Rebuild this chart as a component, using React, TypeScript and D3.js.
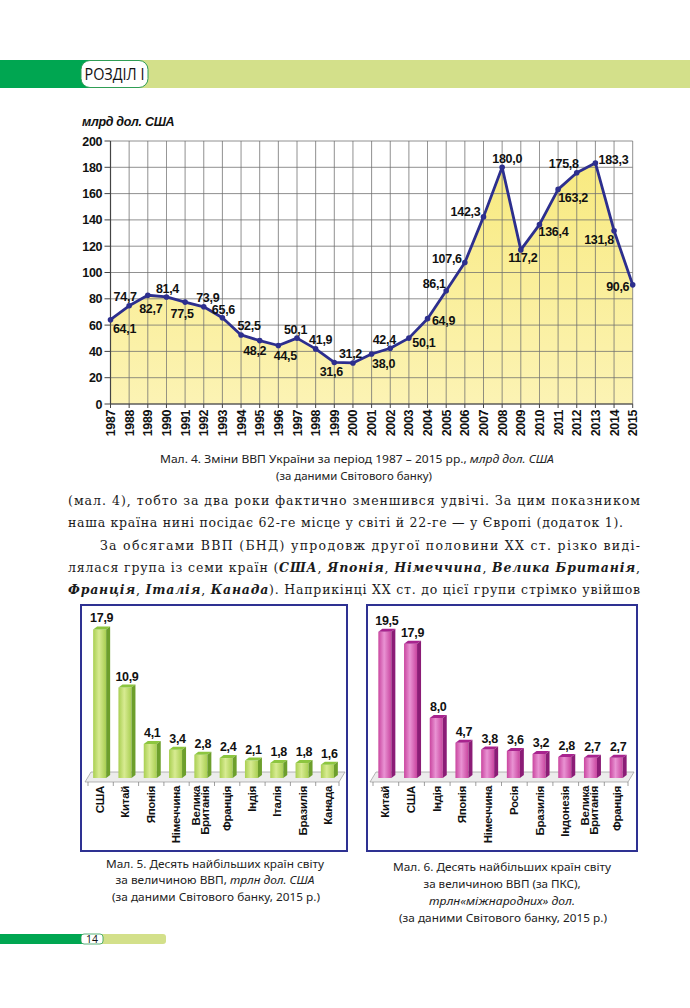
import React from "react";
import * as d3 from "d3";

// ---------- DATA ----------
const years = ["1987","1988","1989","1990","1991","1992","1993","1994","1995","1996","1997","1998","1999","2000","2001","2002","2003","2004","2005","2006","2007","2008","2009","2010","2011","2012","2013","2014","2015"];
const gdpUkraine = [64.1,74.7,82.7,81.4,77.5,73.9,65.6,52.5,48.2,44.5,50.1,41.9,31.6,31.2,38.0,42.4,50.1,64.9,86.1,107.6,142.3,180.0,117.2,136.4,163.2,175.8,183.3,131.8,90.6];
const yTicks = [0,20,40,60,80,100,120,140,160,180,200];

const fig5Countries = ["США","Китай","Японія","Німеччина","Велика Британія","Франція","Індія","Італія","Бразилія","Канада"];
const fig5Values = [17.9,10.9,4.1,3.4,2.8,2.4,2.1,1.8,1.8,1.6];
const fig6Countries = ["Китай","США","Індія","Японія","Німеччина","Росія","Бразилія","Індонезія","Велика Британія","Франція"];
const fig6Values = [19.5,17.9,8.0,4.7,3.8,3.6,3.2,2.8,2.7,2.7];

// label placement (layout only): offset of label centre from point
const labelOffsets: [number, number][] = [
  [14,9],[-4,-9],[3,13],[1,-8],[-3,11],[4,-9],[1,-8],[8,-9],[-5,10],[7,10],
  [-1.5,-9],[5,-9],[-3,9],[-2.5,-9],[12,9],[-6,-9],[15,4],[16,2],[-12,-7],[-18,-4],
  [-18,-5],[5,-9],[2,8],[14,7],[15,8],[-13,-9],[18,-3],[-15,9],[-15,2]
];

const fmt = (v: number) => d3.format(".1f")(v).replace(".", ",");

const BOLD = "'Liberation Sans', Arial, sans-serif";
const CAP = "'Liberation Sans Narrow', 'Noto Sans', sans-serif";
const SERIF = "'DejaVu Serif', serif";

function LineChart() {
  const x = d3.scalePoint<string>().domain(years).range([110.5, 632.7]);
  const y = d3.scaleLinear().domain([0, 200]).range([404, 141]);
  const pts = years.map((yr, i) => [x(yr)!, y(gdpUkraine[i])] as [number, number]);
  const area = d3.area<[number, number]>().x(d => d[0]).y0(y(0)).y1(d => d[1]);
  const line = d3.line<[number, number]>().x(d => d[0]).y(d => d[1]);
  const left = x(years[0])!;
  const right = x(years[years.length - 1])!;
  return (
    <g>
      <defs>
        <linearGradient id="fillY" x1="0" y1="0" x2="0" y2="1">
          <stop offset="0" stopColor="#f8ea80" />
          <stop offset="1" stopColor="#fcf3b4" />
        </linearGradient>
      </defs>
      <text x={82} y={126} fontFamily={BOLD} fontWeight="bold" fontStyle="italic" fontSize={12.5} letterSpacing={-0.3} fill="#111">млрд дол. США</text>
      <path d={area(pts)!} fill="url(#fillY)" />
      {yTicks.map(t => (
        <line key={"h" + t} x1={left} x2={right} y1={y(t)} y2={y(t)} stroke="#6f6f6f" strokeWidth={0.9} opacity={0.85} />
      ))}
      {years.map(yr => (
        <line key={"v" + yr} x1={x(yr)} x2={x(yr)} y1={y(200)} y2={y(0)} stroke="#6f6f6f" strokeWidth={0.9} opacity={0.85} />
      ))}
      <line x1={left} x2={left} y1={y(200)} y2={y(0)} stroke="#444" strokeWidth={1.2} />
      <line x1={left} x2={right} y1={y(0)} y2={y(0)} stroke="#444" strokeWidth={1.2} />
      {yTicks.map(t => (
        <g key={"yt" + t}>
          <line x1={left - 6} x2={left} y1={y(t)} y2={y(t)} stroke="#444" strokeWidth={1} />
          <text x={102} y={y(t) + 4.5} textAnchor="end" fontFamily={BOLD} fontWeight="bold" fontSize={12.5} letterSpacing={-0.4} fill="#111">{t}</text>
        </g>
      ))}
      {years.map(yr => (
        <g key={"xt" + yr}>
          <line x1={x(yr)} x2={x(yr)} y1={y(0)} y2={y(0) + 4} stroke="#444" strokeWidth={1} />
          <text transform={`translate(${x(yr)! + 4.5},${410}) rotate(-90)`} textAnchor="end" fontFamily={BOLD} fontWeight="bold" fontSize={12.5} letterSpacing={-0.4} fill="#111">{yr}</text>
        </g>
      ))}
      <path d={line(pts)!} fill="none" stroke="#2d2f8e" strokeWidth={2.8} strokeLinejoin="round" />
      {pts.map((p, i) => (
        <circle key={"c" + i} cx={p[0]} cy={p[1]} r={2.8} fill="#2d2f8e" />
      ))}
      {pts.map((p, i) => (
        <text key={"l" + i} x={p[0] + labelOffsets[i][0]} y={p[1] + labelOffsets[i][1] + 4.5} textAnchor="middle" fontFamily={BOLD} fontWeight="bold" fontSize={12.5} letterSpacing={-0.3} fill="#111">{fmt(gdpUkraine[i])}</text>
      ))}
    </g>
  );
}

interface BarProps {
  id: string;
  box: [number, number, number, number];
  range: [number, number];
  base: number;
  pxPerUnit: number;
  cats: string[];
  vals: number[];
  front: [string, string];
  top: string;
  side: string;
}

function Bars3D({ id, box, range, base, pxPerUnit, cats, vals, front, top, side }: BarProps) {
  const xb = d3.scaleBand<string>().domain(cats).range(range).padding(0);
  const y = d3.scaleLinear().domain([0, 1]).range([base, base - pxPerUnit]);
  const w = 13, dx = 4, dy = 3;
  const [bx, by, bw, bh] = box;
  const floorL = range[0] - 3, floorR = range[1] - 2;
  return (
    <g>
      <defs>
        <linearGradient id={id + "f"} x1="0" y1="0" x2="1" y2="0">
          <stop offset="0" stopColor={front[0]} />
          <stop offset="0.45" stopColor={front[1]} />
          <stop offset="1" stopColor={front[0]} />
        </linearGradient>
      </defs>
      <rect x={bx} y={by} width={bw} height={bh} fill="#fff" stroke="#2e3192" strokeWidth={2} />
      <polygon points={`${floorL},${base + 4} ${floorL + 6},${base - 6} ${floorR + 6},${base - 6} ${floorR},${base + 4}`} fill="#ececec" stroke="#9a9a9a" strokeWidth={0.7} />
      {cats.map((c, i) => {
        const xs = xb(c)!;
        return <line key={"s" + i} x1={xs} x2={xs} y1={base + 4} y2={base + 8} stroke="#777" strokeWidth={0.7} />;
      })}
      <line x1={floorR} x2={floorR} y1={base + 4} y2={base + 8} stroke="#777" strokeWidth={0.7} />
      {cats.map((c, i) => {
        const cx = xb(c)! + xb.bandwidth() / 2;
        const fx = cx - w / 2 - 1;
        const t = y(vals[i]);
        return (
          <g key={c}>
            <rect x={fx} y={t} width={w} height={base - t} fill={`url(#${id}f)`} />
            <polygon points={`${fx},${t} ${fx + dx},${t - dy} ${fx + w + dx},${t - dy} ${fx + w},${t}`} fill={top} />
            <polygon points={`${fx + w},${t} ${fx + w + dx},${t - dy} ${fx + w + dx},${base - dy} ${fx + w},${base}`} fill={side} />
            <text x={cx + 1} y={t - 7} textAnchor="middle" fontFamily={BOLD} fontWeight="bold" fontSize={12.5} letterSpacing={-0.3} fill="#111">{fmt(vals[i])}</text>
            {c.includes(" ") ? (
              <text transform={`translate(${cx - 2},${base + 8}) rotate(-90)`} textAnchor="end" fontFamily={BOLD} fontWeight="bold" fontSize={11.5} letterSpacing={-0.3} fill="#111">
                <tspan x={0} dy={0}>{c.split(" ")[0]}</tspan>
                <tspan x={0} dy={9}>{c.split(" ")[1]}</tspan>
              </text>
            ) : (
              <text transform={`translate(${cx + 3.5},${base + 8}) rotate(-90)`} textAnchor="end" fontFamily={BOLD} fontWeight="bold" fontSize={11.5} letterSpacing={-0.3} fill="#111">{c}</text>
            )}
          </g>
        );
      })}
    </g>
  );
}

export default function App() {
  const lightG = "#d3e08a";
  const darkG = "#00a651";
  return (
    <svg width={690} height={1008} style={{ position: "absolute", left: 0, top: 0, background: "#fff" }}>
      {/* header band */}
      <rect x={0} y={60} width={690} height={28} fill={lightG} />
      <rect x={0} y={60} width={92} height={28} fill={darkG} />
      <rect x={81} y={60.5} width={67} height={27} rx={9} fill="#fff" stroke="#2f9e55" strokeWidth={1} />
      <text x={114.5} y={80} textAnchor="middle" fontFamily="'Open Sans', sans-serif" fontSize={16} textLength={60} lengthAdjust="spacingAndGlyphs" fill="#111">РОЗДІЛ I</text>

      <LineChart />

      {/* caption fig 4 */}
      <text x={357} y={463} textAnchor="middle" fontFamily={CAP} fontSize={11.5} fill="#222" textLength={394} lengthAdjust="spacingAndGlyphs">
        Мал. 4. Зміни ВВП України за період 1987 – 2015 рр., <tspan fontStyle="italic">млрд дол. США</tspan>
      </text>
      <text x={354} y={480} textAnchor="middle" fontFamily={CAP} fontSize={11.5} fill="#222" textLength={156} lengthAdjust="spacingAndGlyphs">(за даними Світового банку)</text>

      {/* body text */}
      <g fontFamily={SERIF} fontSize={12.5} fill="#1a1a1a">
        <text x={68} y={505} textLength={572} lengthAdjust="spacing">(мал. 4), тобто за два роки фактично зменшився удвічі. За цим показником</text>
        <text x={68} y={527} textLength={555} lengthAdjust="spacing">наша країна нині посідає 62-ге місце у світі й 22-ге — у Європі (додаток 1).</text>
        <text x={100} y={550} textLength={540} lengthAdjust="spacing">За обсягами ВВП (БНД) упродовж другої половини XX ст. різко виді-</text>
        <text x={68} y={572} textLength={572} lengthAdjust="spacing">
          лялася група із семи країн (<tspan fontStyle="italic" fontWeight="bold">США</tspan>, <tspan fontStyle="italic" fontWeight="bold">Японія</tspan>, <tspan fontStyle="italic" fontWeight="bold">Німеччина</tspan>, <tspan fontStyle="italic" fontWeight="bold">Велика Британія</tspan>,
        </text>
        <text x={68} y={594} textLength={572} lengthAdjust="spacing">
          <tspan fontStyle="italic" fontWeight="bold">Франція</tspan>, <tspan fontStyle="italic" fontWeight="bold">Італія</tspan>, <tspan fontStyle="italic" fontWeight="bold">Канада</tspan>). Наприкінці XX ст. до цієї групи стрімко увійшов
        </text>
      </g>

      <Bars3D id="g5" box={[81, 605, 266, 246]} range={[88, 341]} base={778} pxPerUnit={8.3}
        cats={fig5Countries} vals={fig5Values} front={["#a9cf52", "#d8eb92"]} top="#8dc63f" side="#6d9f2c" />
      <Bars3D id="m6" box={[367, 605, 270, 246]} range={[373, 630]} base={778} pxPerUnit={7.5}
        cats={fig6Countries} vals={fig6Values} front={["#c9459f", "#e993d3"]} top="#a8238e" side="#8b1c76" />

      {/* captions under bar charts */}
      <g fontFamily={CAP} fontSize={11.5} fill="#222" textAnchor="middle">
        <text x={215} y={868} textLength={218} lengthAdjust="spacingAndGlyphs">Мал. 5. Десять найбільших країн світу</text>
        <text x={215} y={884} textLength={199} lengthAdjust="spacingAndGlyphs">за величиною ВВП, <tspan fontStyle="italic">трлн дол. США</tspan></text>
        <text x={216} y={901} textLength={208} lengthAdjust="spacingAndGlyphs">(за даними Світового банку, 2015 р.)</text>
        <text x={502} y={871} textLength={218} lengthAdjust="spacingAndGlyphs">Мал. 6. Десять найбільших країн світу</text>
        <text x={502} y={888} textLength={157} lengthAdjust="spacingAndGlyphs">за величиною ВВП (за ПКС),</text>
        <text x={502} y={905} textLength={146} lengthAdjust="spacingAndGlyphs" fontStyle="italic">трлн«міжнародних» дол.</text>
        <text x={503} y={922} textLength={208} lengthAdjust="spacingAndGlyphs">(за даними Світового банку, 2015 р.)</text>
      </g>

      {/* footer */}
      <rect x={0} y={934} width={166} height={10} rx={3} fill={lightG} />
      <rect x={0} y={934} width={90} height={10} fill={darkG} />
      <rect x={81} y={934} width={22} height={10} rx={3} fill="#fff" stroke="#2f9e55" strokeWidth={0.8} />
      <text x={92} y={943} textAnchor="middle" fontFamily="'Open Sans', sans-serif" fontSize={10.5} fill="#111">14</text>
    </svg>
  );
}
